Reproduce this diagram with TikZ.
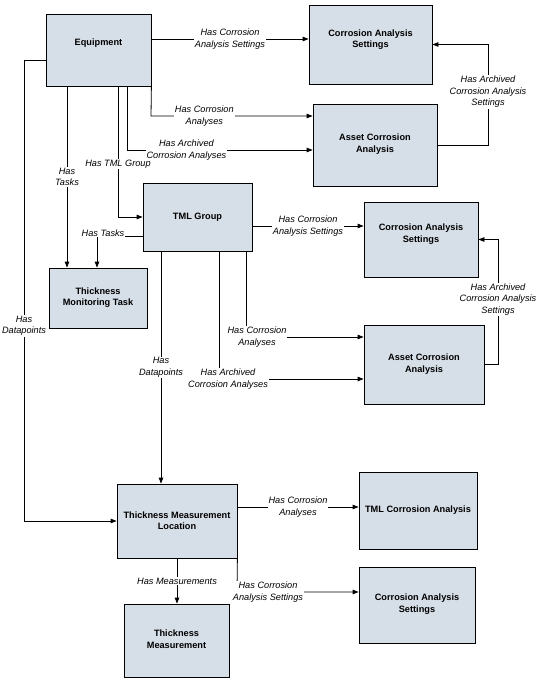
\documentclass[tikz,border=0pt]{standalone}
\usepackage{fontspec}
\setmainfont{Liberation Sans}
\usetikzlibrary{arrows.meta}
\definecolor{boxfill}{RGB}{214,222,231}
\begin{document}
\begin{tikzpicture}[x=1pt,y=-1pt,
 box/.style={draw=black, line width=0.8pt, fill=boxfill, inner sep=0pt},
 btxt/.style={font=\fontsize{9.2}{11.5}\selectfont\bfseries, align=center, inner sep=0pt},
 conn/.style={draw=black, line width=0.8pt, -{Triangle[length=6pt,width=4.5pt]}},
 elbl/.style={font=\fontsize{9.2}{11.5}\selectfont\itshape, align=center, fill=white, inner sep=1pt}]
\useasboundingbox (0,0) rectangle (540,684);
% boxes
\node[box, minimum width=105pt, minimum height=72pt] (eq) at (98.5,50) {};
\node[btxt] (eqt) at (98.5,43) {Equipment};
\node[box, minimum width=123pt, minimum height=79pt] (cas1) at (370.5,44.5) {};
\node[btxt] (cas1t) at (370.5,39.5) {Corrosion Analysis\\Settings};
\node[box, minimum width=124pt, minimum height=82pt] (aca1) at (375,145) {};
\node[btxt] (aca1t) at (375,144) {Asset Corrosion\\Analysis};
\node[box, minimum width=109pt, minimum height=68pt] (tml) at (197.5,217) {};
\node[btxt] (tmlt) at (197.5,217) {TML Group};
\node[box, minimum width=98pt, minimum height=60pt] (tmt) at (98,298) {};
\node[btxt] (tmtt) at (98,297.5) {Thickness\\Monitoring Task};
\node[box, minimum width=114pt, minimum height=75pt] (cas2) at (421,239.5) {};
\node[btxt] (cas2t) at (421,234) {Corrosion Analysis\\Settings};
\node[box, minimum width=120pt, minimum height=79pt] (aca2) at (424,364.5) {};
\node[btxt] (aca2t) at (424,364) {Asset Corrosion\\Analysis};
\node[box, minimum width=120pt, minimum height=74pt] (tmloc) at (177,521) {};
\node[btxt] (tmloct) at (177,520.5) {Thickness Measurement\\Location};
\node[box, minimum width=118pt, minimum height=77pt] (tca) at (418,510.5) {};
\node[btxt] (tcat) at (418,510) {TML Corrosion Analysis};
\node[box, minimum width=116pt, minimum height=76pt] (cas3) at (417,605) {};
\node[btxt] (cas3t) at (417,604) {Corrosion Analysis\\Settings};
\node[box, minimum width=105pt, minimum height=73pt] (tm) at (176.5,640.5) {};
\node[btxt] (tmt2) at (176.5,639) {Thickness\\Measurement};
% connectors
\draw[conn] (eq.east |- 0,39) -- node[elbl]{Has Corrosion\\Analysis Settings} (cas1.west |- 0,39);
\draw[conn] (eq.south east) -- (151,116) -- node[elbl,pos=0.33]{Has Corrosion\\Analyses} (aca1.west |- 0,116);
\draw[conn] (127,0 |- eq.south) -- (127,150) -- node[elbl,pos=0.32]{Has Archived\\Corrosion Analyses} (aca1.west |- 0,150);
\draw[conn] (aca1.east) -- (488,0 |- aca1.east) -- node[elbl,pos=0.53]{Has Archived\\Corrosion Analysis\\Settings} (488,0 |- cas1.east) -- (cas1.east);
\draw[conn] (118,0 |- eq.south) -- node[elbl,pos=0.595]{Has TML Group} (118,0 |- tml.west) -- (tml.west);
\draw[conn] (67,0 |- eq.south) -- node[elbl]{Has\\Tasks} (67,0 |- tmt.north);
\draw[conn] (tml.west |- 0,236) -- node[elbl,pos=1,xshift=6pt,yshift=3pt]{Has Tasks} (97,236) -- (97,0 |- tmt.north);
\draw[conn] (eq.west |- 0,60) -- (24,60) -- node[elbl,pos=0.577]{Has\\Datapoints} (24,0 |- tmloc.west) -- (tmloc.west);
\draw[conn] (161,0 |- tml.south) -- node[elbl]{Has\\Datapoints} (161,0 |- tmloc.north);
\draw[conn] (219,0 |- tml.south) -- node[elbl,pos=1,xshift=9pt]{Has Archived\\Corrosion Analyses} (219,379) -- (aca2.west |- 0,379);
\draw[conn] (246,0 |- tml.south) -- node[elbl,pos=1,xshift=11pt]{Has Corrosion\\Analyses} (246,337) -- (aca2.west |- 0,337);
\draw[conn] (tml.east |- 0,226) -- node[elbl]{Has Corrosion\\Analysis Settings} (cas2.west |- 0,226);
\draw[conn] (aca2.east) -- (498,0 |- aca2.east) -- node[elbl,pos=0.52]{Has Archived\\Corrosion Analysis\\Settings} (498,0 |- cas2.east) -- (cas2.east);
\draw[conn] (tmloc.east |- 0,507) -- node[elbl]{Has Corrosion\\Analyses} (tca.west |- 0,507);
\draw[conn] (tmloc.south east) -- node[elbl,pos=1,xshift=31pt]{Has Corrosion\\Analysis Settings} (237,592) -- (cas3.west |- 0,592);
\draw[conn] (tmloc.south) -- node[elbl]{Has Measurements} (tmloc.south |- tm.north);
\end{tikzpicture}
\end{document}
